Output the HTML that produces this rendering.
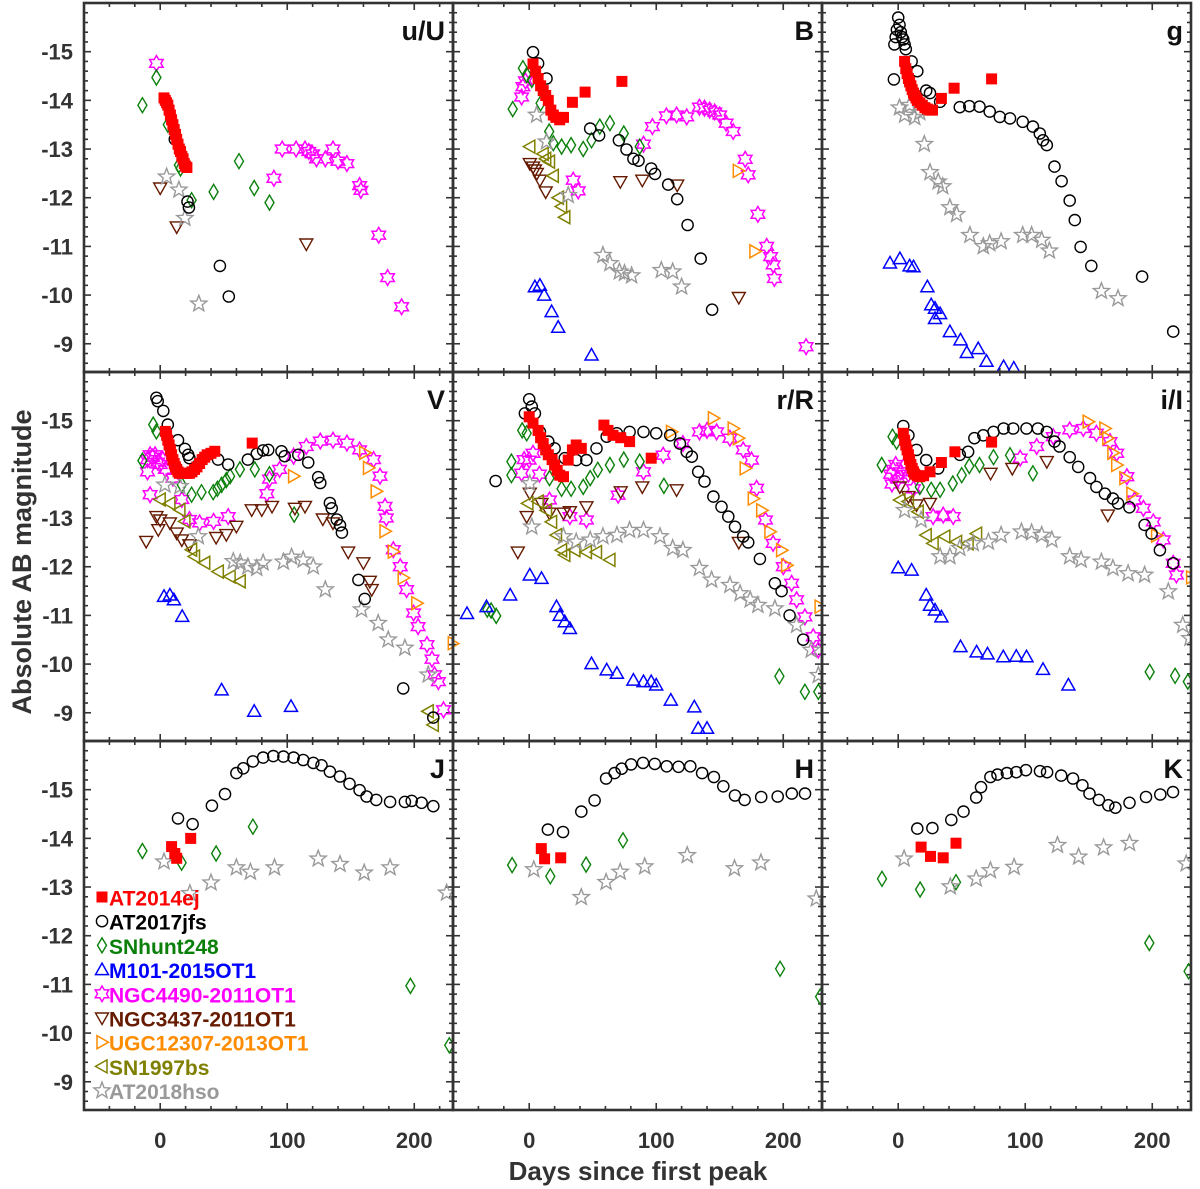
<!DOCTYPE html>
<html><head><meta charset="utf-8"><style>
html,body{margin:0;padding:0;background:#fff}
svg{display:block}
text{font-family:"Liberation Sans",Arial,sans-serif;font-weight:bold}
</style></head><body>
<svg id="chart" width="1200" height="1189" viewBox="0 0 1200 1189" xmlns="http://www.w3.org/2000/svg">
<g id="panels"></g>
<text transform="translate(31,562) rotate(-90)" text-anchor="middle" font-size="27" fill="#333">Absolute AB magnitude</text>
<text x="638" y="1180" text-anchor="middle" font-size="26" fill="#333">Days since first peak</text>
<g id="legend"></g>
</svg>
<script>
// ---- tick labels ----
const yTicks = [-15,-14,-13,-12,-11,-10,-9];
const xTicks = [0,100,200];
const xDomain = [-60,230.5];
const yDomain = [-16,-8.42];

// ---- u/U ----
const U_ej = [[3,-14.05],[4,-14.0],[5,-13.95],[6,-13.9],[7,-13.8],[8,-13.7],[9,-13.6],[10,-13.5],[11,-13.4],[12,-13.3],[13,-13.2],[14,-13.1],[15,-13.0],[16,-12.95],[17,-12.85],[18,-12.8],[19,-12.7],[20,-12.65],[21,-12.62]];
const U_jfs = [[11.5,-13.2],[21.5,-11.92],[22.6,-11.8],[47,-10.6],[54,-9.97]];
const U_hunt = [[-14,-13.9],[-3,-14.47],[6,-13.5],[14.7,-12.67],[16,-12.6],[24.7,-11.95],[42,-12.12],[62,-12.75],[74,-12.2],[86,-11.9]];
const U_n4490 = [[-3,-14.76],[89.5,-12.4],[96,-13],[107,-13],[114,-13.0],[117,-12.95],[120,-12.9],[123,-12.8],[130,-12.8],[136,-13],[140,-12.75],[147,-12.7],[157,-12.25],[158,-12.15],[172,-11.23],[179,-10.36],[190,-9.76]];
const U_n3437 = [[0,-12.2],[13,-11.4],[115,-11.05]];
const U_hso = [[5,-12.43],[14.7,-12.16],[19.4,-11.58],[30.4,-9.82]];

// ---- B ----
const B_ej = [[3,-14.75],[5,-14.6],[7,-14.45],[9,-14.3],[11,-14.2],[13,-14.1],[15,-14.0],[17,-13.8],[19,-13.7],[21,-13.65],[24,-13.6],[27,-13.65],[34,-13.96],[44,-14.17],[73,-14.39]];
const B_jfs = [[3,-14.99],[7,-14.76],[13.6,-14.45],[48,-13.42],[55,-13.28],[70.6,-13.18],[76.6,-12.99],[82,-12.8],[86,-12.76],[96,-12.6],[99,-12.49],[109.4,-12.27],[116.5,-11.97],[124.7,-11.44],[135,-10.75],[144,-9.7]];
const B_hunt = [[-5,-14.66],[-2,-14.52],[2,-14.42],[-13,-13.82],[9,-13.94],[15.7,-13.36],[19,-13.12],[25.5,-13.05],[33,-13.08],[42.5,-13.0],[49,-13.18],[55.6,-13.46],[63.5,-13.53],[74.5,-13.32],[87,-13.05]];
const B_m101 = [[4.5,-10.17],[8.4,-10.2],[11.8,-10.0],[17.6,-9.66],[22.8,-9.34],[49,-8.77]];
const B_n4490 = [[-5,-14.28],[-6,-14.07],[-3,-14.4],[34.6,-12.36],[38.6,-12.14],[90,-13.1],[97,-13.46],[108,-13.68],[116,-13.7],[124,-13.66],[134,-13.86],[138,-13.84],[142,-13.8],[146,-13.76],[150,-13.7],[155,-13.53],[160.6,-13.36],[170,-12.79],[172.4,-12.47],[180,-11.66],[187,-11],[190,-10.79],[192,-10.62],[193,-10.34],[218,-8.94]];
const B_n3437 = [[0.5,-12.7],[3,-12.63],[4.5,-12.57],[6,-12.5],[8.4,-12.36],[13,-12.12],[71.7,-12.33],[89,-12.36],[116.5,-12.26],[165,-9.95]];
const B_ugc = [[164.6,-12.55],[177.7,-10.9]];
const B_sn97 = [[0.5,-13.05],[11,-12.9],[16,-12.74],[13,-12.8],[19,-12.45],[23,-12.0],[25.5,-11.82],[28,-11.6]];
const B_hso = [[5.8,-13.7],[13.6,-13.15],[30.7,-12.05],[58,-10.82],[63.5,-10.65],[71,-10.48],[75,-10.45],[80.6,-10.4],[104,-10.51],[113,-10.48],[120,-10.17]];

// ---- g ----
const G_ej = [[5,-14.8],[6,-14.65],[7,-14.55],[8,-14.45],[9,-14.38],[10,-14.3],[11,-14.22],[12,-14.15],[13,-14.1],[14,-14.05],[15,-14.0],[17,-13.95],[19,-13.9],[21,-13.85],[23,-13.82],[25,-13.8],[27,-13.8],[34,-14.04],[44,-14.25],[73.5,-14.44]];
const G_jfs = [[-3,-15.15],[-2,-15.3],[-1,-15.45],[0,-15.7],[1,-15.55],[2,-15.4],[3,-15.3],[4,-15.25],[5,-15.15],[6,-15.05],[-3.4,-14.43],[10.5,-14.8],[15,-14.6],[22,-14.2],[25,-14.15],[33,-13.97],[48.5,-13.86],[56,-13.88],[64,-13.87],[72,-13.77],[80,-13.66],[88,-13.63],[98,-13.56],[106,-13.46],[111.5,-13.32],[114,-13.18],[117,-13.08],[123,-12.64],[128.6,-12.34],[135,-11.94],[139,-11.54],[143.6,-10.99],[152,-10.6],[192,-10.38],[216.5,-9.25]];
const G_m101 = [[-6.5,-10.66],[1.3,-10.75],[9,-10.6],[12,-10.58],[23,-10.17],[26,-9.8],[29,-9.73],[33,-9.62],[29,-9.52],[40.7,-9.25],[49,-9.08],[54,-8.82],[63,-8.9],[69.5,-8.64],[83,-8.53],[91,-8.5]];
const G_hso = [[1,-13.85],[5,-13.7],[9,-13.9],[13,-13.65],[17,-13.75],[20.5,-13.1],[25,-12.52],[31.5,-12.33],[35,-12.23],[40.7,-11.8],[46,-11.66],[56.4,-11.23],[67,-11.0],[72,-11.06],[81,-11.1],[98,-11.23],[105,-11.23],[113,-11.13],[119,-10.91],[160,-10.08],[173,-9.93]];

// ---- V ----
const V_ej = [[4,-14.78],[5,-14.7],[6,-14.6],[7,-14.5],[8,-14.4],[9,-14.3],[10,-14.2],[11,-14.12],[12,-14.05],[13,-14.0],[14,-13.95],[15,-13.92],[17,-13.92],[19,-13.92],[21,-13.92],[23,-13.92],[25,-13.95],[27,-14.0],[29,-14.05],[31,-14.12],[33,-14.2],[35,-14.25],[37,-14.3],[40,-14.33],[43,-14.37],[72.4,-14.54]];
const V_jfs = [[-3,-15.47],[-2,-15.4],[2.4,-15.2],[6,-14.92],[14,-14.6],[19.4,-14.42],[22,-14.3],[23,-14.23],[45.6,-14.2],[53.5,-14.1],[69,-14.2],[76,-14.32],[81,-14.39],[85,-14.4],[95.5,-14.37],[98,-14.27],[108.7,-14.3],[116.5,-14.14],[124.4,-13.84],[126,-13.72],[133.6,-13.31],[135,-13.2],[139,-12.97],[141.5,-12.85],[143,-12.7],[156,-11.73],[161,-11.34],[191.3,-9.5],[215,-8.9]];
const V_hunt = [[-14,-14.18],[-5.5,-14.92],[-3,-14.78],[17,-13.68],[24.7,-13.48],[32.5,-13.53],[41.7,-13.53],[45,-13.6],[48.3,-13.68],[52,-13.78],[55,-13.86],[62.7,-14.0],[74.5,-14.0],[86,-13.9],[105.5,-13.07]];
const V_m101 = [[3,-11.39],[7.6,-11.42],[10.8,-11.32],[17.3,-10.98],[48.3,-9.47],[74,-9.03],[103,-9.13]];
const V_n4490 = [[-10,-14.2],[-8,-14.3],[-6,-14.25],[-4,-14.3],[-2,-14.15],[0,-14.1],[2,-14.2],[4,-14.0],[-10,-13.95],[-8,-13.48],[10,-13.82],[17,-13.38],[23,-12.97],[31,-12.9],[42,-12.93],[53.5,-13.03],[84,-13.5],[86,-13.8],[94,-14.0],[105,-14.27],[115,-14.47],[126,-14.58],[136,-14.6],[147,-14.54],[157,-14.4],[168,-14.2],[173,-13.86],[177,-13.24],[178,-13.0],[183.5,-12.35],[189,-12.0],[194,-11.53],[199.5,-11.05],[203,-10.77],[210,-10.4],[214,-10.1],[216,-9.78],[219,-9.64],[223,-9.06]];
const V_n3437 = [[-11,-12.52],[-3,-13.03],[0,-12.96],[-1.5,-12.76],[7.6,-12.9],[13,-12.69],[17,-12.55],[23,-12.45],[44,-12.6],[52,-12.66],[60,-12.83],[72,-13.17],[80,-13.17],[88,-13.24],[106,-13.2],[114,-13.24],[128,-12.98],[136,-12.9],[148,-12.3],[160,-12.08],[165,-11.7],[166.5,-11.53]];
const V_ugc = [[105,-13.86],[161,-14.34],[164,-14.03],[170,-13.55],[177,-12.73],[183.5,-12.31],[191.3,-11.77],[202,-11.25],[230.7,-10.43]];
const V_sn97 = [[0,-13.38],[7.6,-13.3],[15.5,-13.17],[19.4,-12.93],[24.7,-12.35],[27,-12.21],[35,-12.08],[45.7,-11.9],[55,-11.8],[63,-11.7],[211,-9.03],[215,-8.75]];
const V_hso = [[3.7,-13.68],[15.5,-13.65],[30,-12.62],[57.5,-12.11],[63,-12.08],[69,-12.0],[76,-11.97],[81,-12.08],[97,-12.1],[103.4,-12.2],[112.6,-12.14],[120.5,-12.0],[130,-11.53],[158.5,-11.12],[171.6,-10.84],[179.5,-10.5],[192.6,-10.33],[211,-9.78]];

// ---- r/R ----
const R_ej = [[0,-15.08],[3,-14.95],[7,-14.8],[9,-14.65],[11,-14.53],[13,-14.4],[15,-14.3],[18,-14.2],[20,-14.09],[22,-13.98],[24,-13.88],[27,-13.85],[30.7,-14.19],[34,-14.4],[37,-14.5],[41,-14.43],[58.8,-14.91],[62,-14.8],[66,-14.7],[72,-14.65],[79,-14.57],[96,-14.23]];
const R_jfs = [[-26.5,-13.76],[-3.4,-15.15],[0,-15.44],[2,-15.29],[4.5,-15.15],[8.4,-14.77],[15,-14.57],[20,-14.43],[28,-14.23],[37,-14.19],[45,-14.19],[53,-14.43],[61,-14.67],[69,-14.74],[79,-14.77],[90,-14.77],[100,-14.74],[111,-14.7],[118.6,-14.53],[124,-14.36],[128,-14.26],[133,-13.95],[138,-13.75],[145,-13.44],[151.4,-13.23],[156.7,-13.03],[162,-12.82],[168.5,-12.62],[172.4,-12.5],[181.6,-12.16],[193.4,-11.66],[198.7,-11.5],[205,-11.0],[215.7,-10.5]];
const R_hunt = [[-5.5,-14.8],[-2,-14.74],[-14,-14.16],[-14,-13.88],[16,-13.82],[25.5,-13.6],[33,-13.6],[42.5,-13.64],[48,-13.82],[54,-13.99],[63.5,-14.09],[74.5,-14.2],[87,-14.16],[106,-13.66],[-33,-11.12],[-30,-11.1],[-26,-10.99],[197,-9.75],[217,-9.43],[227.6,-9.43]];
const R_m101 = [[-49,-11.04],[-33.6,-11.18],[-15,-11.42],[0.5,-11.83],[9.7,-11.76],[21.5,-11.18],[24,-11.0],[28,-10.87],[32,-10.73],[49,-10.01],[61,-9.88],[69,-9.81],[82,-9.67],[90,-9.64],[96,-9.64],[100,-9.57],[111.5,-9.26],[130,-9.12],[133,-8.68],[140,-8.68]];
const R_n4490 = [[-4,-14.2],[0,-14.19],[-6,-13.92],[3,-14.33],[8,-13.9],[16,-13.37],[32,-13.03],[45,-12.96],[70,-13.47],[90,-13.95],[105.5,-14.29],[121,-14.53],[134,-14.77],[140,-14.8],[147.5,-14.77],[158,-14.64],[168.5,-14.4],[175,-14.19],[179,-13.61],[186,-12.96],[192,-12.48],[200,-12.0],[206.6,-11.66],[210.5,-11.32],[217,-10.97],[223.6,-10.56],[227.6,-10.29]];
const R_n3437 = [[0.5,-13.51],[-2,-13.03],[-9,-12.3],[9.7,-13.3],[16,-13.1],[27,-13.1],[32,-13.13],[45,-13.23],[72,-13.54],[89,-13.64],[116,-13.58],[165,-12.5]];
const R_ugc = [[-60.5,-10.42],[112,-14.77],[145,-15.05],[160.6,-14.84],[164.6,-14.64],[170,-14.02],[176.4,-13.4],[183,-13.16],[189.5,-12.72],[198.7,-12.34],[202.6,-12.03],[229,-11.18]];
const R_sn97 = [[-1,-13.3],[7,-13.34],[13.6,-13.16],[17.6,-12.92],[21.5,-12.65],[25.5,-12.34],[28,-12.24],[36,-12.34],[45,-12.3],[53,-12.3],[63.5,-12.14]];
const R_hso = [[0.5,-13.71],[2,-12.82],[27,-12.62],[37,-12.51],[48,-12.55],[58,-12.62],[69,-12.65],[79,-12.75],[90,-12.75],[103,-12.62],[113,-12.38],[121,-12.34],[134,-11.97],[143.6,-11.73],[158,-11.62],[166,-11.45],[174,-11.32],[180,-11.21],[193.4,-11.14],[210.5,-10.8],[222,-10.29],[227.6,-9.77]];

// ---- i/I ----
const I_ej = [[4,-14.74],[5,-14.6],[6,-14.5],[7,-14.4],[8,-14.3],[9,-14.2],[10,-14.1],[11,-14.02],[12,-13.95],[13,-13.9],[15,-13.87],[17,-13.85],[20,-13.87],[25,-13.95],[34,-14.14],[44.6,-14.36],[73.5,-14.56]];
const I_jfs = [[4,-14.89],[8,-14.7],[14.4,-14.4],[22,-14.19],[31.5,-14.02],[48.5,-14.3],[55,-14.36],[60,-14.64],[67,-14.7],[75,-14.77],[83,-14.84],[90.5,-14.84],[101,-14.84],[110,-14.84],[117,-14.77],[123,-14.57],[127,-14.47],[135,-14.25],[141.7,-14.05],[151,-13.82],[156,-13.64],[162.7,-13.5],[169,-13.4],[173,-13.3],[182,-13.22],[194,-12.86],[199.5,-12.68],[206,-12.34],[216.5,-12.07]];
const I_hunt = [[-4.5,-14.67],[-1.3,-14.57],[-13,-14.09],[17,-13.64],[26,-13.58],[33,-13.58],[43,-13.71],[50,-13.88],[56,-14.07],[64,-14.09],[75,-14.25],[88,-14.29],[106,-13.92],[198,-9.84],[218,-9.76],[228,-9.64]];
const I_m101 = [[0,-11.98],[10.5,-11.93],[22,-11.42],[25,-11.21],[29,-11.11],[34,-10.97],[49,-10.36],[61.7,-10.25],[70.3,-10.21],[82.7,-10.15],[93,-10.16],[101,-10.15],[114,-9.89],[134,-9.57]];
const I_n4490 = [[-6,-13.9],[-4,-14.0],[-2,-14.1],[0,-13.8],[2,-13.95],[4,-14.05],[-5,-13.7],[8,-13.9],[12,-13.6],[27.5,-13.03],[35.4,-13.06],[43.3,-13.03],[96,-14.23],[109,-14.47],[122,-14.67],[135,-14.81],[145.7,-14.84],[156,-14.74],[166.7,-14.57],[172,-14.33],[180,-13.85],[186,-13.37],[193,-13.2],[200.8,-12.92],[208.7,-12.55],[216.5,-12.07],[219,-11.83]];
const I_n3437 = [[1.3,-13.64],[8,-13.44],[14.4,-13.27],[25,-13.3],[72.7,-13.92],[89.8,-14.02],[117,-14.16],[165,-13.06]];
const I_ugc = [[149.6,-14.98],[162.7,-14.84],[165,-14.64],[169,-14.34],[172,-14.09],[178.5,-13.82],[184,-13.5],[203.4,-12.64],[231,-11.78]];
const I_sn97 = [[1.3,-13.37],[8,-13.34],[15.7,-13.13],[22,-12.65],[27.5,-12.48],[36.7,-12.62],[46,-12.51],[55,-12.48],[61.7,-12.68]];
const I_hso = [[5,-13.16],[18,-12.96],[33,-12.21],[40.7,-12.21],[48.5,-12.38],[59,-12.48],[71,-12.51],[81,-12.65],[97,-12.72],[105,-12.7],[113,-12.65],[121,-12.55],[135,-12.21],[144,-12.14],[160,-12.1],[169,-11.97],[181,-11.86],[194,-11.83],[212.6,-11.49],[224,-10.8],[229.6,-10.53]];

// ---- J ----
const J_ej = [[9,-13.83],[11.5,-13.69],[13,-13.59],[24,-14.0]];
const J_jfs = [[14,-14.41],[25.5,-14.29],[40.7,-14.67],[51,-14.91],[60,-15.34],[65.4,-15.44],[73,-15.58],[81,-15.66],[89,-15.69],[97,-15.68],[105,-15.66],[112.6,-15.61],[120.5,-15.55],[127,-15.5],[133.6,-15.37],[141.5,-15.27],[149,-15.12],[157,-14.99],[162.5,-14.86],[170,-14.79],[181,-14.75],[192.6,-14.75],[198,-14.77],[205.8,-14.73],[215,-14.66]];
const J_hunt = [[-14,-13.74],[16.8,-13.5],[44,-13.69],[73,-14.24],[197,-10.97],[227.6,-9.75]];
const J_hso = [[3,-13.52],[23.4,-12.87],[40,-13.09],[60,-13.4],[71,-13.31],[90,-13.4],[124.4,-13.58],[141.5,-13.47],[160.6,-13.29],[181,-13.4],[225.5,-12.88]];

// ---- H ----
const H_ej = [[9.5,-13.79],[12.1,-13.58],[24.8,-13.6]];
const H_jfs = [[14.7,-14.18],[26.6,-14.13],[41,-14.55],[51.5,-14.78],[60.5,-15.23],[67.2,-15.34],[72.8,-15.43],[80.2,-15.52],[89.6,-15.55],[98.9,-15.53],[108.2,-15.48],[117.5,-15.47],[126.8,-15.48],[136.1,-15.34],[145.4,-15.26],[152.8,-15.07],[162,-14.88],[169.6,-14.79],[182.6,-14.85],[195.6,-14.86],[206.7,-14.92],[217.1,-14.92]];
const H_hunt = [[-13.5,-13.45],[16.6,-13.22],[44.8,-13.46],[73.8,-13.96],[197.5,-11.32],[229,-10.75]];
const H_hso = [[3.6,-13.36],[41,-12.79],[60.5,-13.1],[71.6,-13.31],[90.9,-13.42],[124.4,-13.65],[161.6,-13.38],[182.4,-13.5],[226,-12.76]];

// ---- K ----
const K_ej = [[18,-13.82],[25.4,-13.63],[35.4,-13.6],[45.5,-13.9]];
const K_jfs = [[15,-14.2],[26.9,-14.21],[41.8,-14.38],[51.4,-14.55],[61.4,-14.84],[65.2,-15.05],[72.6,-15.26],[78.2,-15.31],[85.6,-15.34],[93,-15.36],[100.5,-15.4],[111.6,-15.38],[117.2,-15.36],[128.3,-15.29],[137.6,-15.23],[145,-15.09],[150.6,-14.92],[158,-14.79],[165.4,-14.68],[171,-14.63],[182.1,-14.73],[195.1,-14.85],[206.3,-14.9],[216.3,-14.95]];
const K_hunt = [[-12.8,-13.17],[17.2,-12.95],[45.5,-13.1],[197.7,-11.85],[228.6,-11.27]];
const K_hso = [[4.6,-13.58],[41,-13.01],[61.4,-13.17],[72.6,-13.34],[91.2,-13.41],[125.4,-13.86],[142,-13.62],[161.7,-13.81],[182.1,-13.9],[226.7,-13.48]];

const panels = [
 {label:'u/U',col:0,row:0,s:{n4490:U_n4490,hunt:U_hunt,n3437:U_n3437,hso:U_hso,jfs:U_jfs,ej:U_ej}},
 {label:'B',col:1,row:0,s:{n4490:B_n4490,hunt:B_hunt,n3437:B_n3437,ugc:B_ugc,sn97:B_sn97,m101:B_m101,hso:B_hso,jfs:B_jfs,ej:B_ej}},
 {label:'g',col:2,row:0,s:{m101:G_m101,hso:G_hso,jfs:G_jfs,ej:G_ej}},
 {label:'V',col:0,row:1,s:{n4490:V_n4490,hunt:V_hunt,n3437:V_n3437,ugc:V_ugc,sn97:V_sn97,m101:V_m101,hso:V_hso,jfs:V_jfs,ej:V_ej}},
 {label:'r/R',col:1,row:1,s:{n4490:R_n4490,hunt:R_hunt,n3437:R_n3437,ugc:R_ugc,sn97:R_sn97,m101:R_m101,hso:R_hso,jfs:R_jfs,ej:R_ej}},
 {label:'i/I',col:2,row:1,s:{n4490:I_n4490,hunt:I_hunt,n3437:I_n3437,ugc:I_ugc,sn97:I_sn97,m101:I_m101,hso:I_hso,jfs:I_jfs,ej:I_ej}},
 {label:'J',col:0,row:2,s:{hunt:J_hunt,hso:J_hso,jfs:J_jfs,ej:J_ej}},
 {label:'H',col:1,row:2,s:{hunt:H_hunt,hso:H_hso,jfs:H_jfs,ej:H_ej}},
 {label:'K',col:2,row:2,s:{hunt:K_hunt,hso:K_hso,jfs:K_jfs,ej:K_ej}}
];

const NS='http://www.w3.org/2000/svg';
const lefts=[84,453,822], tops=[3,372,741], PW=369, PH=369;
const colors={ej:'#ff0000',jfs:'#000000',hunt:'#0a800a',m101:'#0000ff',n4490:'#ff00ff',n3437:'#661a00',ugc:'#ff8c00',sn97:'#808000',hso:'#999999'};
const names={ej:'AT2014ej',jfs:'AT2017jfs',hunt:'SNhunt248',m101:'M101-2015OT1',n4490:'NGC4490-2011OT1',n3437:'NGC3437-2011OT1',ugc:'UGC12307-2013OT1',sn97:'SN1997bs',hso:'AT2018hso'};

function mk(tag,attrs){const e=document.createElementNS(NS,tag);for(const k in attrs)e.setAttribute(k,attrs[k]);return e;}
function star(n,R,r,rot){let p=[];for(let i=0;i<2*n;i++){const a=rot+i*Math.PI/n;const rr=i%2?r:R;p.push((rr*Math.cos(a)).toFixed(2)+','+(rr*Math.sin(a)).toFixed(2));}return p.join(' ');}
const shapes={
 ej:()=>mk('rect',{x:-5.5,y:-5.5,width:11,height:11,fill:colors.ej}),
 jfs:()=>mk('circle',{r:5.6,fill:'none',stroke:colors.jfs,'stroke-width':1.4}),
 hunt:()=>mk('polygon',{points:'0,-7.5 4.5,0 0,7.5 -4.5,0',fill:'none',stroke:colors.hunt,'stroke-width':1.4}),
 m101:()=>mk('polygon',{points:'0,-6.5 6.5,5 -6.5,5',fill:'none',stroke:colors.m101,'stroke-width':1.5}),
 n4490:()=>mk('polygon',{points:star(6,7.8,4.5,-Math.PI/2),fill:'none',stroke:colors.n4490,'stroke-width':1.5}),
 n3437:()=>mk('polygon',{points:'0,6.5 6.5,-5 -6.5,-5',fill:'none',stroke:colors.n3437,'stroke-width':1.4}),
 ugc:()=>mk('polygon',{points:'6.5,0 -5,6.5 -5,-6.5',fill:'none',stroke:colors.ugc,'stroke-width':1.5}),
 sn97:()=>mk('polygon',{points:'-6.5,0 5,6.5 5,-6.5',fill:'none',stroke:colors.sn97,'stroke-width':1.5}),
 hso:()=>mk('polygon',{points:star(5,8.5,3.6,-Math.PI/2),fill:'none',stroke:colors.hso,'stroke-width':1.4})
};

const root=document.getElementById('panels');
const defs=mk('defs',{});root.appendChild(defs);
panels.forEach((p,pi)=>{
 const L=lefts[p.col], T=tops[p.row];
 const xs=d=>L+(d-xDomain[0])/(xDomain[1]-xDomain[0])*PW;
 const ys=m=>T+(m-yDomain[0])/(yDomain[1]-yDomain[0])*PH;
 const cp=mk('clipPath',{id:'cp'+pi});cp.appendChild(mk('rect',{x:L,y:T,width:PW,height:PH}));defs.appendChild(cp);
 const g=mk('g',{});
 
 
 root.appendChild(g);
 // ticks
 const tk=mk('g',{stroke:'#333','stroke-width':1.6});
 
 
 for(let d=-60;d<=230;d+=20){const x=xs(d);const len=(d%100===0)?7:4;
  tk.appendChild(mk('line',{x1:x,y1:T,x2:x,y2:T+len}));tk.appendChild(mk('line',{x1:x,y1:T+PH,x2:x,y2:T+PH-len}));}
 for(let k=-80;k<=-43;k++){const m=k/5;const y=ys(m);const len=(k%5===0)?7:4;
  tk.appendChild(mk('line',{x1:L,y1:y,x2:L+len,y2:y}));tk.appendChild(mk('line',{x1:L+PW,y1:y,x2:L+PW-len,y2:y}));}
 g.appendChild(tk);
 // data
 const dg=mk('g',{'clip-path':'url(#cp'+pi+')'});
 
 
 g.appendChild(dg);
 for(const key in p.s){
  const sg=mk('g',{});
  
  
  dg.appendChild(sg);
  p.s[key].forEach(pt=>{
   const e=shapes[key]();
   e.setAttribute('transform','translate('+xs(pt[0]).toFixed(1)+','+ys(pt[1]).toFixed(1)+')');
   
   
   sg.appendChild(e);
  });
 }
 // frame
 const fr=mk('rect',{x:L,y:T,width:PW,height:PH,fill:'none',stroke:'#333','stroke-width':2.6});
 
 
 g.appendChild(fr);
 const lb=mk('text',{x:L+PW-8,y:T+37,'text-anchor':'end','font-size':27,fill:'#111'});
 lb.textContent=p.label;
 
 
 g.appendChild(lb);
 if(p.col===0){yTicks.forEach(m=>{const t=mk('text',{x:73,y:ys(m)+8,'text-anchor':'end','font-size':22,fill:'#333'});t.textContent=String(m);
  
  
  g.appendChild(t);});}
 if(p.row===2){xTicks.forEach(d=>{const t=mk('text',{x:xs(d),y:1148,'text-anchor':'middle','font-size':22,fill:'#333'});t.textContent=String(d);
  
  
  g.appendChild(t);});}
});

// legend
const lg=document.getElementById('legend');
const order=['ej','jfs','hunt','m101','n4490','n3437','ugc','sn97','hso'];
order.forEach((k,i)=>{
 const y=898+i*24.2;
 const eg=mk('g',{});
 
 
 const e=shapes[k]();e.setAttribute('transform','translate(102,'+(y-1)+')');
 eg.appendChild(e);
 const t=mk('text',{x:109,y:y+7.5,'font-size':21,fill:colors[k]});t.textContent=names[k];
 eg.appendChild(t);
 lg.appendChild(eg);
});
</script>
</body></html>
